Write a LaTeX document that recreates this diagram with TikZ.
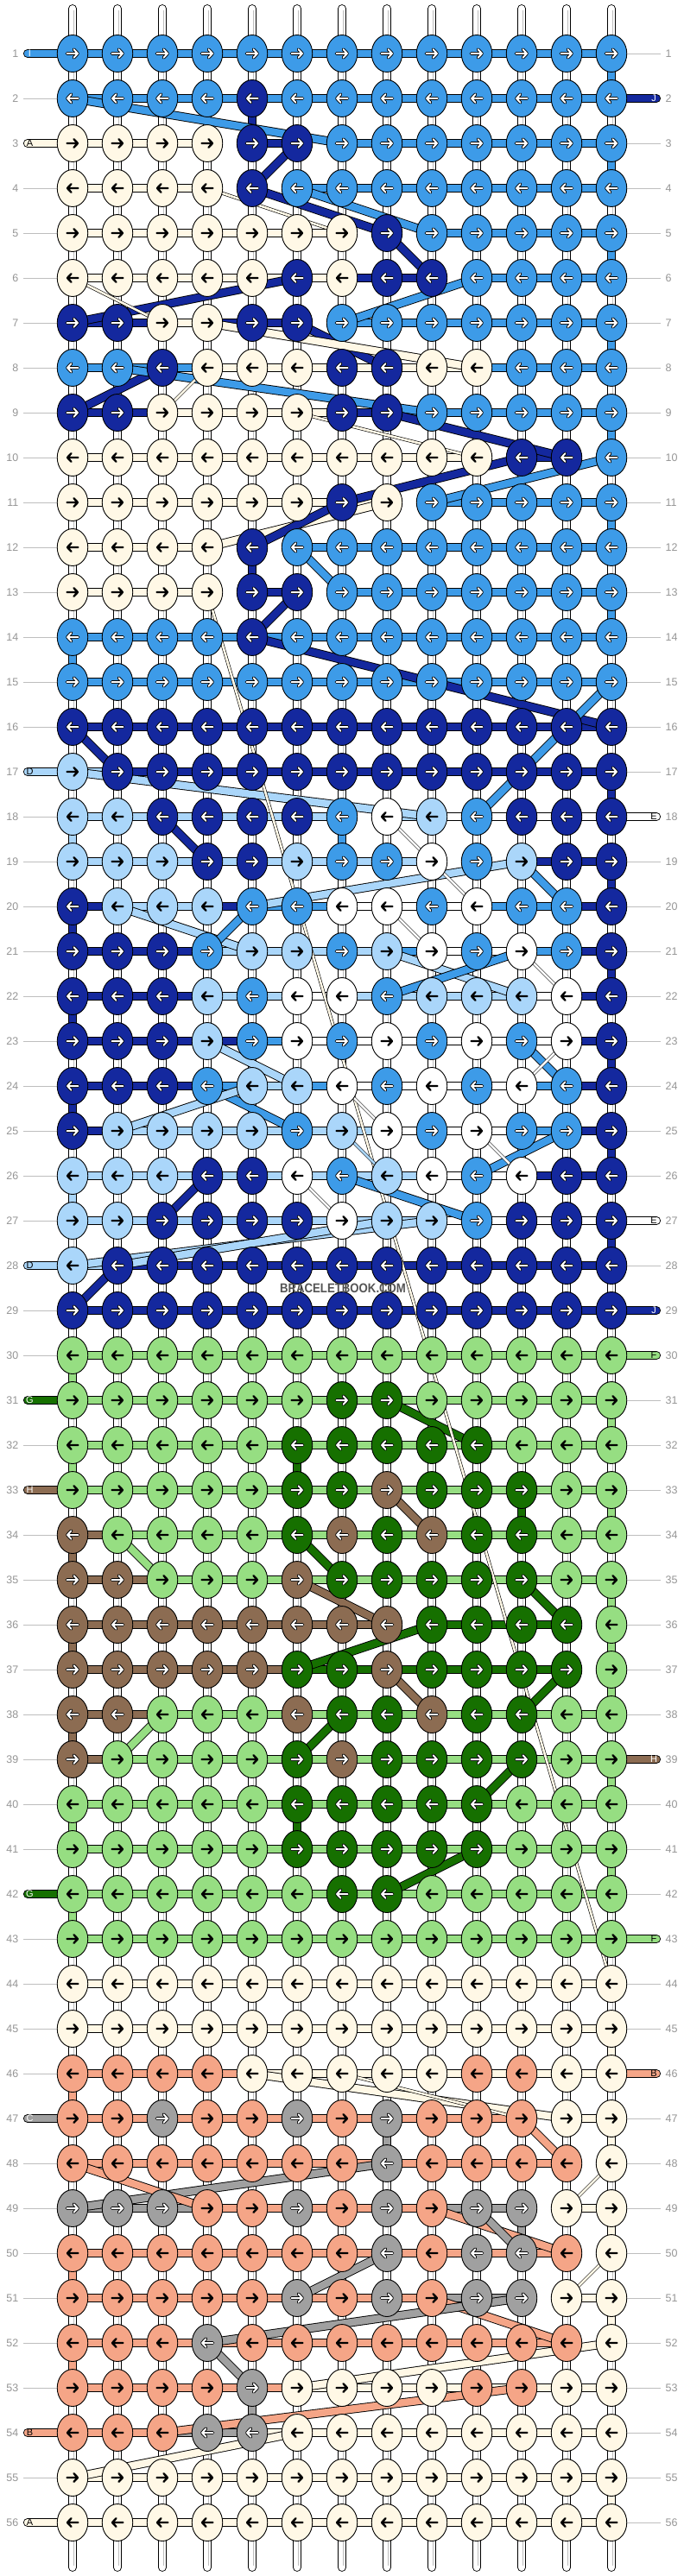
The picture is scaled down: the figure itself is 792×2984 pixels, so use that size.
\documentclass[tikz,border=0pt]{standalone}
\usepackage{fontspec}
\setmainfont{Liberation Sans}
\usetikzlibrary{shapes.geometric}
\definecolor{cL}{RGB}{61,155,232}
\definecolor{cD}{RGB}{20,40,158}
\definecolor{cC}{RGB}{255,248,230}
\definecolor{cS}{RGB}{170,214,250}
\definecolor{cW}{RGB}{255,255,255}
\definecolor{cG}{RGB}{150,222,130}
\definecolor{cN}{RGB}{22,112,0}
\definecolor{cB}{RGB}{140,108,82}
\definecolor{cP}{RGB}{245,165,135}
\definecolor{cR}{RGB}{160,160,160}
\definecolor{labgray}{RGB}{150,150,150}
\definecolor{guidegray}{RGB}{190,190,190}
\definecolor{wmgray}{RGB}{85,85,85}
\pgfdeclarelayer{strings}\pgfdeclarelayer{bars}\pgfdeclarelayer{diags}
\pgfsetlayers{strings,bars,diags,main}
\tikzset{
 knot/.style={ellipse, draw=black, line width=0.9pt, minimum width=35.5pt, minimum height=43pt, inner sep=0pt},
 strand/.style={draw=black, line width=0.9pt, double distance=8.4pt},
 thinstrand/.style={draw=black, line width=0.6pt, double distance=2.6pt},
 vstring/.style={draw=black, line width=0.9pt, double=white, double distance=8pt, line cap=round},
 rowlab/.style={text=labgray, font=\fontsize{12.5}{13}\selectfont, inner sep=0pt},
 stublet/.style={font=\fontsize{11}{11}\selectfont, inner sep=0pt},
 guide/.style={draw=guidegray, line width=0.8pt},
}
\def\acL{1}\def\acD{1}\def\acN{1}\def\acB{1}\def\acR{1}
\def\acC{0}\def\acS{0}\def\acW{0}\def\acG{0}\def\acP{0}
\def\tcL{white}\def\tcD{white}\def\tcN{white}\def\tcB{white}\def\tcR{white}
\def\tcC{black}\def\tcS{black}\def\tcW{black}\def\tcG{black}\def\tcP{black}
\newcount\colc
\def\drawarrow#1#2#3#4{%
  \ifnum#4=1\relax
    \draw[shift={(#1,#2)},xscale=#3,black,line width=3.8pt,line cap=round,line join=round] (-6.5,0)--(6,0) (1.5,-4.8)--(6,0)--(1.5,4.8);
    \draw[shift={(#1,#2)},xscale=#3,white,line width=2.0pt,line cap=round,line join=round] (-6.5,0)--(6,0) (1.5,-4.8)--(6,0)--(1.5,4.8);
  \else
    \draw[shift={(#1,#2)},xscale=#3,black,line width=2.4pt,line cap=round,line join=round] (-6.5,0)--(6,0) (1.5,-4.8)--(6,0)--(1.5,4.8);
  \fi}
\def\knot#1#2#3{%
  \edef\kr{#1}\edef\kc{#2}%
  \pgfmathsetmacro\kx{84+52*(\kc-1)}%
  \pgfmathsetmacro\ky{62+52*(\kr-1)}%
  \node[knot, fill=c#3] (n\kr-\kc) at (\kx,\ky) {};
  \ifodd\kr\relax\def\adir{1}\else\def\adir{-1}\fi
  \drawarrow{\kx}{\ky}{\adir}{\csname ac#3\endcsname}}
\def\knotrow#1#2{\global\colc=0 \def\currow{#1}\knotparse#2\relax}
\def\knotparse#1{\ifx#1\relax\else\global\advance\colc by 1 \knot{\currow}{\the\colc}{#1}\expandafter\knotparse\fi}
\def\onebar#1#2#3{\edef\kr{#1}\edef\kc{#2}\pgfmathtruncatemacro\kn{\kc+1}%
  \draw[strand, double=c#3] (n\kr-\kc.center) -- (n\kr-\kn.center);}
\def\barrow#1#2{\global\colc=0 \def\currow{#1}\barparse#2\relax}
\def\barparse#1{\ifx#1\relax\else\global\advance\colc by 1 \ifx#1-\else\onebar{\currow}{\the\colc}{#1}\fi\expandafter\barparse\fi}
\def\stubL#1#2{\pgfmathsetmacro\yy{62+52*(#1-1)}\coordinate (sl#1) at (32,\yy);
  \draw[strand,double=c#2,line cap=round] (sl#1) -- (n#1-1.center);}
\def\stubR#1#2{\pgfmathsetmacro\yy{62+52*(#1-1)}\coordinate (sr#1) at (760,\yy);
  \draw[strand,double=c#2,line cap=round] (sr#1) -- (n#1-13.center);}
\def\letL#1#2#3{\pgfmathsetmacro\yy{62+52*(#1-1)}\edef\stc{\csname tc#2\endcsname}%
  \node[stublet,text=\stc] (tl#1) at (34.5,\yy) {#3};}
\def\letR#1#2#3{\pgfmathsetmacro\yy{62+52*(#1-1)}\edef\stc{\csname tc#2\endcsname}%
  \node[stublet,text=\stc] (tr#1) at (757,\yy) {#3};}
\begin{document}
\begin{tikzpicture}[x=1pt,y=-1pt]
\useasboundingbox (0,0) rectangle (792,2984);
% knots
\knotrow{1}{LLLLLLLLLLLLL}
\knotrow{2}{LLLLDLLLLLLLL}
\knotrow{3}{CCCCDDLLLLLLL}
\knotrow{4}{CCCCDLLLLLLLL}
\knotrow{5}{CCCCCCCDLLLLL}
\knotrow{6}{CCCCCDCDDLLLL}
\knotrow{7}{DDCCDDLLLLLLL}
\knotrow{8}{LLDCCCDDCCLLL}
\knotrow{9}{DDCCCCDDLLLLL}
\knotrow{10}{CCCCCCCCCCDDL}
\knotrow{11}{CCCCCCDCLLLLL}
\knotrow{12}{CCCCDLLLLLLLL}
\knotrow{13}{CCCCDDLLLLLLL}
\knotrow{14}{LLLLDLLLLLLLL}
\knotrow{15}{LLLLLLLLLLLLL}
\knotrow{16}{DDDDDDDDDDDDD}
\knotrow{17}{SDDDDDDDDDDDD}
\knotrow{18}{SSDDDDLWSLDDD}
\knotrow{19}{SSSDDSLLWLSDD}
\knotrow{20}{DSSSLLWWLWLLD}
\knotrow{21}{DDDLSSLSWLWLD}
\knotrow{22}{DDDSLWWLSSSWD}
\knotrow{23}{DDDSLWLWLWLWD}
\knotrow{24}{DDDLSSWLWLWLD}
\knotrow{25}{DSSSSLSWLWLLD}
\knotrow{26}{SSSDDWLSWLWDD}
\knotrow{27}{SSDDDDWSSLDDD}
\knotrow{28}{SDDDDDDDDDDDD}
\knotrow{29}{DDDDDDDDDDDDD}
\knotrow{30}{GGGGGGGGGGGGG}
\knotrow{31}{GGGGGGNNGGGGG}
\knotrow{32}{GGGGGNNNNNGGG}
\knotrow{33}{GGGGGNNBNNNGG}
\knotrow{34}{BGGGGNBNBNNGG}
\knotrow{35}{BBGGGBNNNNNGG}
\knotrow{36}{BBBBBBBBNNNNG}
\knotrow{37}{BBBBBNNBNNNNG}
\knotrow{38}{BBGGGBNNBNNGG}
\knotrow{39}{BGGGGNBNNNNGG}
\knotrow{40}{GGGGGNNNNNGGG}
\knotrow{41}{GGGGGNNNNNGGG}
\knotrow{42}{GGGGGGNNGGGGG}
\knotrow{43}{GGGGGGGGGGGGG}
\knotrow{44}{CCCCCCCCCCCCC}
\knotrow{45}{CCCCCCCCCCCCC}
\knotrow{46}{PPPPCCCCCPPCC}
\knotrow{47}{PPRPPRPRPPPCC}
\knotrow{48}{PPPPPPPRPPPPC}
\knotrow{49}{RRRPPRPRPRRCC}
\knotrow{50}{PPPPPPPRPRRPC}
\knotrow{51}{PPPPPRPRPRRCC}
\knotrow{52}{PPPRPPPPPPPPC}
\knotrow{53}{PPPPRCCCCPPCC}
\knotrow{54}{PPPRRCCCCCCCC}
\knotrow{55}{CCCCCCCCCCCCC}
\knotrow{56}{CCCCCCCCCCCCC}
% row labels
\foreach \r in {1,...,56}{
  \pgfmathsetmacro\yy{62+52*(\r-1)}
  \node[rowlab,anchor=east] (ll\r) at (21.5,\yy) {\r};
  \node[rowlab,anchor=west] (rl\r) at (770.5,\yy) {\r};
}
% stub letters
\letL{1}{L}{I}\letL{3}{C}{A}\letL{17}{S}{D}\letL{28}{S}{D}\letL{31}{N}{G}
\letL{33}{B}{H}\letL{42}{N}{G}\letL{47}{R}{C}\letL{54}{P}{B}\letL{56}{C}{A}
\letR{2}{D}{J}\letR{18}{W}{E}\letR{27}{W}{E}\letR{29}{D}{J}\letR{30}{G}{F}
\letR{39}{B}{H}\letR{43}{G}{F}\letR{46}{P}{B}
\node[text=wmgray,inner sep=0pt] (wm) at (397,1492) {\scalebox{0.88}[1]{\bfseries\fontsize{15}{15}\selectfont BRACELETBOOK.COM}};
% background strings
\begin{pgfonlayer}{strings}
\fill[white] (0,0) rectangle (792,2984);
\foreach \c in {1,...,13}{
  \pgfmathsetmacro\xx{84+52*(\c-1)}
  \coordinate (top\c) at (\xx,10);
  \coordinate (bot\c) at (\xx,2974);
  \draw[vstring] (top\c) -- (bot\c);
  \draw[guidegray, line width=0.8pt] ([xshift=1.8pt,yshift=-2pt]top\c) -- ([xshift=1.8pt,yshift=2pt]bot\c);
}
\end{pgfonlayer}
% bars, guides, stubs, vertical links
\begin{pgfonlayer}{bars}
\foreach \r in {1,...,56}{
  \pgfmathsetmacro\yy{62+52*(\r-1)}
  \coordinate (gl\r) at (27,\yy);
  \coordinate (gr\r) at (765,\yy);
  \draw[guide] (gl\r) -- (n\r-1.center);
  \draw[guide] (gr\r) -- (n\r-13.center);
}
\barrow{1}{LLLLLLLLLLLL}
\barrow{2}{LLLLLLLLLLLL}
\barrow{3}{CCC-D-LLLLLL}
\barrow{4}{CCC--LLLLLLL}
\barrow{5}{CCCCCC--LLLL}
\barrow{6}{CCCCCCDD-LLL}
\barrow{7}{DDCDD-LLLLLL}
\barrow{8}{LLLCCCCCCLLL}
\barrow{9}{DDCCCCDLLLLL}
\barrow{10}{CCCCCCCCC-D-}
\barrow{11}{CCCCCCC-LLLL}
\barrow{12}{CCC--LLLLLLL}
\barrow{13}{CCC-D-LLLLLL}
\barrow{14}{LLLLLLLLLLLL}
\barrow{15}{LLLLLLLLLLLL}
\barrow{16}{DDDDDDDDDDDD}
\barrow{17}{SDDDDDDDDDDD}
\barrow{18}{SSSSSS-SWWWW}
\barrow{19}{SSSSSSSS--DD}
\barrow{20}{DSSDLLWWWLLD}
\barrow{21}{DDDSSSSLWWLD}
\barrow{22}{DDDSSWSSSSWD}
\barrow{23}{DDDDLWWWWWWD}
\barrow{24}{DDDLSLWWWWLD}
\barrow{25}{DSSSSSSWWWLD}
\barrow{26}{SSSSSSSSWWDD}
\barrow{27}{SSSSSSSSWWWW}
\barrow{28}{SDDDDDDDDDDD}
\barrow{29}{DDDDDDDDDDDD}
\barrow{30}{GGGGGGGGGGGG}
\barrow{31}{GGGGGGGGGGGG}
\barrow{32}{GGGGGGGGGGGG}
\barrow{33}{GGGGGGGGGGGG}
\barrow{34}{BGGGGGGGGGGG}
\barrow{35}{BBGGGGGGGGGG}
\barrow{36}{BBBBBBB-NNN-}
\barrow{37}{BBBBBNNNNNN-}
\barrow{38}{BBGGGGGGGGGG}
\barrow{39}{BGGGGGGGGGGG}
\barrow{40}{GGGGGGGGGGGG}
\barrow{41}{GGGGGGGGGGGG}
\barrow{42}{GGGGGGGGGGGG}
\barrow{43}{GGGGGGGGGGGG}
\barrow{44}{CCCCCCCCCCCC}
\barrow{45}{CCCCCCCCCCCC}
\barrow{46}{PPPPCCCCCCCC}
\barrow{47}{PPPPPPPPPP-C}
\barrow{48}{PPPPPPPPPPP-}
\barrow{49}{RRRPPPPPRR-C}
\barrow{50}{PPPPPPPPPPP-}
\barrow{51}{PPPPPPPPRR-C}
\barrow{52}{PPPPPPPPPPP-}
\barrow{53}{PPPPPCCCCCCC}
\barrow{54}{PPRRCCCCCCCC}
\barrow{55}{CCCCCCCCCCCC}
\barrow{56}{CCCCCCCCCCCC}
\stubL{1}{L}\stubL{3}{C}\stubL{17}{S}\stubL{28}{S}\stubL{31}{N}
\stubL{33}{B}\stubL{42}{N}\stubL{47}{R}\stubL{54}{P}\stubL{56}{C}
\stubR{2}{D}\stubR{18}{W}\stubR{27}{W}\stubR{29}{D}\stubR{30}{G}
\stubR{39}{B}\stubR{43}{G}\stubR{46}{P}
\foreach \k/\c/\r in {L/13/1,L/13/3,L/13/5,L/13/7,L/13/9,L/13/11,L/13/13,D/5/2,D/5/12,
  L/1/14,D/13/17,S/1/18,L/7/18,D/13/19,D/1/20,D/13/21,D/1/22,D/13/23,D/1/24,D/13/25,
  S/1/26,D/13/27,G/1/30,G/13/31,G/1/32,N/6/32,G/13/33,N/11/33,B/1/34,G/13/35,B/1/36,
  G/13/36,G/13/37,B/1/38,G/13/39,G/1/40,N/6/40,G/13/41,G/1/42,C/13/45,P/1/46,C/13/47,
  R/8/47,C/13/49,R/11/49,P/1/50,C/13/51,P/1/52,R/5/53,C/13/55}{
  \pgfmathtruncatemacro\rn{\r+1}
  \edef\vcol{c\k}
  \draw[strand, double=\vcol] (n\r-\c.center) -- (n\rn-\c.center);
}
\end{pgfonlayer}
% diagonal strands
\begin{pgfonlayer}{diags}
\foreach \k/\a/\b/\c/\d in {L/1/2/7/3,D/6/3/5/4,D/5/4/8/5,L/6/4/9/5,D/8/5/9/6,D/6/6/1/7,
  L/10/6/7/7,D/6/7/8/8,C/4/7/10/8,D/3/8/1/9,L/2/8/9/9,D/8/9/12/10,D/11/10/7/11,
  L/13/10/9/11,C/8/11/4/12,D/7/11/5/12,L/6/12/7/13,D/6/13/5/14,D/5/14/13/16,
  L/13/15/10/18,D/1/16/2/17,S/1/17/9/18,D/3/18/4/19,S/11/19/5/20,L/11/19/12/20,
  S/2/20/5/21,L/5/20/4/21,S/8/21/11/22,L/11/21/8/22,S/4/23/6/24,L/11/23/12/24,
  L/4/24/6/25,S/5/24/2/25,L/12/25/10/26,D/4/26/3/27,L/7/26/10/27,S/9/27/1/28,
  S/8/27/2/28,D/2/28/1/29,N/8/31/10/32,B/8/33/9/34,G/2/34/3/35,N/6/34/7/35,
  B/6/35/8/36,N/11/35/12/36,N/9/36/6/37,B/8/37/9/38,N/12/37/11/38,N/7/38/6/39,
  G/3/38/2/39,N/11/39/10/40,N/10/41/8/42,C/5/46/12/47,P/11/47/12/48,R/8/48/1/49,
  P/1/48/4/49,P/9/49/12/50,R/10/49/11/50,R/8/50/6/51,P/9/51/12/52,R/11/51/4/52,
  R/4/52/5/53,C/13/52/6/53,P/11/53/3/54,C/6/54/1/55}{
  \edef\vcol{c\k}
  \draw[strand, double=\vcol] (n\b-\a.center) -- (n\d-\c.center);
}
\foreach \k/\a/\b/\c/\d in {C/1/6/3/7,C/3/9/4/8,C/6/9/10/10,C/4/4/7/5,C/4/13/13/44,
  W/8/18/9/19,W/9/19/10/20,W/8/20/9/21,W/11/21/12/22,W/12/23/11/24,W/7/24/8/25,
  W/10/25/11/26,W/6/26/7/27,S/7/25/8/26,C/13/48/12/49,C/13/50/12/51,C/7/46/11/47}{
  \edef\vcol{c\k}
  \draw[thinstrand, double=\vcol] (n\b-\a.center) -- (n\d-\c.center);
}
\end{pgfonlayer}
\end{tikzpicture}
\end{document}
